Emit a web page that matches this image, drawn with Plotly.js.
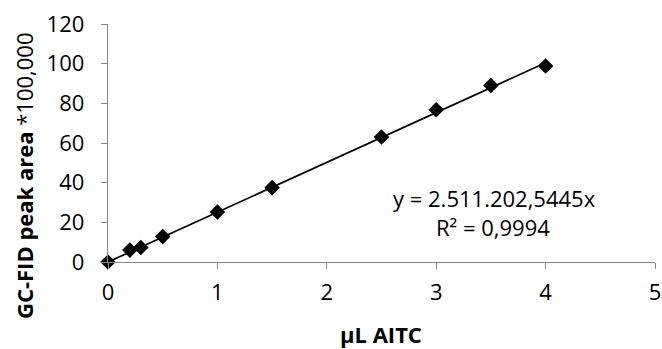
<!DOCTYPE html>
<html><head><meta charset="utf-8">
<script src="https://cdn.plot.ly/plotly-3.0.1.min.js"></script>
<style>body{margin:0;padding:0;background:#fff}#c{width:662px;height:349px}</style>
</head><body><div id="c"></div>
<script>
var volumes = [0, 0.2, 0.3, 0.5, 1, 1.5, 2.5, 3, 3.5, 4];
var areas = [0, 6.0, 7.3, 12.8, 25.2, 37.5, 63.0, 76.8, 89.0, 98.8];
var slope = 25.112025445; // trendline through origin, in units of 100,000
var trendX = [0, 4];
var trendY = trendX.map(function(v){return v*slope;});
var xTicks = [0,1,2,3,4,5];
var yTicks = [0,20,40,60,80,100,120];
var xTitle = '<b>\u03bcL AITC</b>';
var yTitle = '<b>GC-FID peak area</b> *100,000';
var eqText = 'y = 2.511.202,5445x';
var r2Text = 'R² = 0,9994';

var font = 'Open Sans, Noto Sans, sans-serif';
var data = [
 {x: trendX, y: trendY, mode:'lines', line:{color:'#000', width:1.7}, hoverinfo:'skip', cliponaxis:false},
 {x: volumes, y: areas, mode:'markers', marker:{symbol:'diamond', size:12, color:'#000'}, cliponaxis:false}
];
var axisCommon = {showgrid:false, zeroline:false, showline:true, linecolor:'#898989', linewidth:1.3,
   ticks:'outside', ticklen:6, tickcolor:'#898989', tickfont:{size:22}};
var layout = {
 width:662, height:349, showlegend:false,
 paper_bgcolor:'#fff', plot_bgcolor:'#fff',
 margin:{l:108, r:7, t:24, b:87},
 font:{family:font, size:22, color:'#000'},
 xaxis:Object.assign({range:[0,5], tickvals:xTicks, ticklabelstandoff:4}, axisCommon),
 yaxis:Object.assign({range:[0,120], tickvals:yTicks, ticklabelstandoff:12}, axisCommon),
 annotations:[
  {xref:'x', yref:'y', x:3.53, y:(262-198.5)/1.983, text:eqText, showarrow:false, font:{size:22}},
  {xref:'x', yref:'y', x:3.52, y:(262-227.5)/1.983, text:r2Text, showarrow:false, font:{size:22}},
  {xref:'paper', yref:'paper', x:(381-108)/547, y:-(334-262)/238, text:xTitle, showarrow:false,
   font:{size:22}, xanchor:'center', yanchor:'middle'},
  {xref:'paper', yref:'paper', x:-(108-24)/547, y:(262-176)/238, text:yTitle, showarrow:false,
   font:{size:22}, textangle:-90, xanchor:'center', yanchor:'middle'}
 ]
};
Plotly.newPlot('c', data, layout, {displayModeBar:false, staticPlot:true});
</script></body></html>
